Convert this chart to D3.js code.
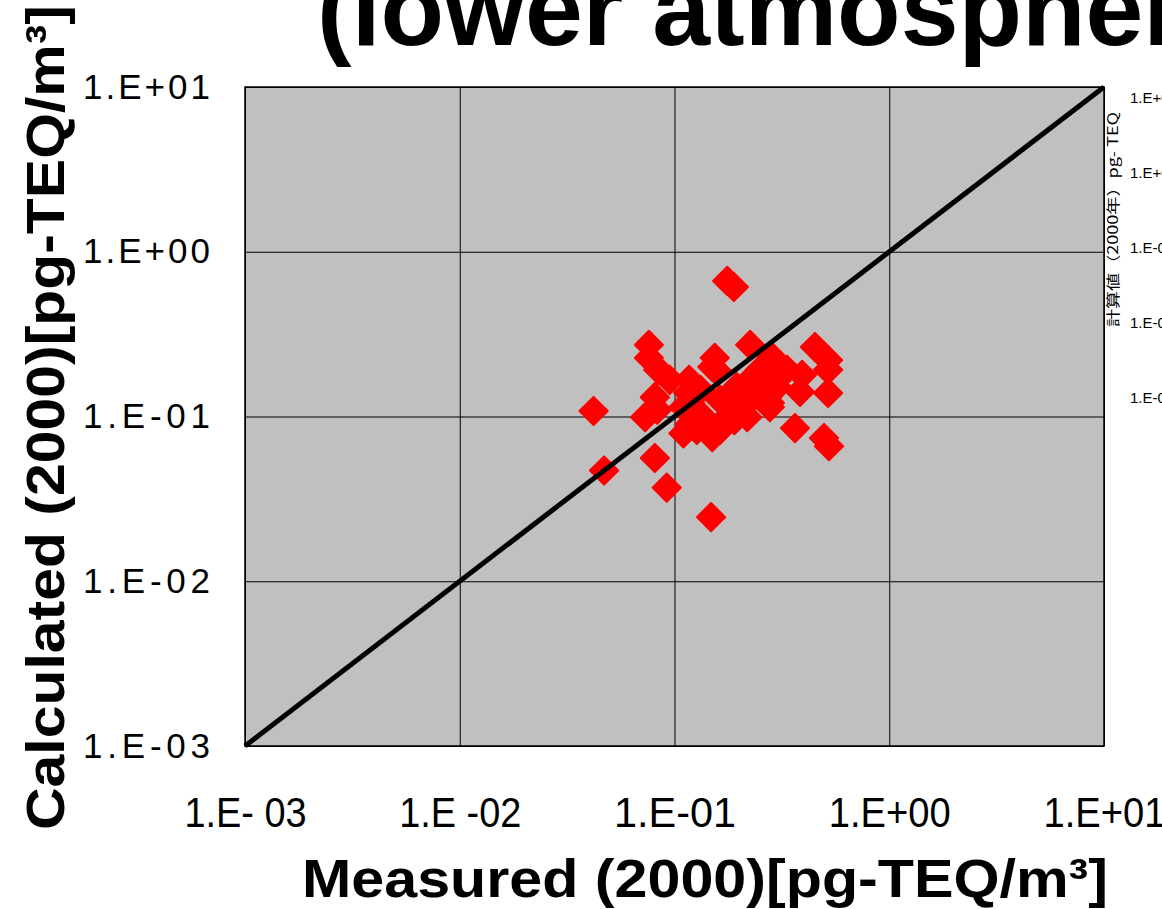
<!DOCTYPE html>
<html>
<head>
<meta charset="utf-8">
<script src="https://cdn.jsdelivr.net/npm/d3@7"></script>
<style>
  html, body { margin: 0; padding: 0; background: #ffffff; }
  svg { display: block; }
</style>
</head>
<body>
<script>
// Measured vs calculated dioxin concentrations (pg-TEQ/m3), year 2000
const measured = [
  0.176, 0.189, 0.042, 0.076, 0.076, 0.084, 0.095, 0.117, 0.081, 0.073,
  0.083, 0.047, 0.081, 0.092, 0.148, 0.154, 0.150, 0.225, 0.451, 0.519,
  0.519, 0.519, 0.497, 0.524, 0.364, 0.384, 0.393, 0.300, 0.284, 0.334,
  0.250, 0.218, 0.278, 0.218, 0.250, 0.300, 0.116, 0.110, 0.150, 0.163,
  0.176, 0.127, 0.118, 0.136, 0.163, 0.195, 0.225, 0.278, 0.110, 0.127,
  0.225, 0.278, 0.270, 0.157, 0.132, 0.202, 0.190, 0.118
];
const calculated = [
  0.665, 0.611, 0.108, 0.272, 0.227, 0.192, 0.167, 0.167, 0.131, 0.099,
  0.110, 0.047, 0.056, 0.037, 0.0245, 0.227, 0.200, 0.272, 0.264, 0.220,
  0.192, 0.139, 0.074, 0.066, 0.085, 0.141, 0.179, 0.211, 0.230, 0.192,
  0.192, 0.151, 0.121, 0.099, 0.131, 0.151, 0.139, 0.079, 0.075, 0.083,
  0.099, 0.095, 0.121, 0.099, 0.126, 0.151, 0.167, 0.160, 0.114, 0.083,
  0.126, 0.114, 0.131, 0.190, 0.145, 0.118, 0.095, 0.090
];
const tickValues = [1e-3, 1e-2, 1e-1, 1e0, 1e1];
const xTickLabels = ["1.E- 03", "1.E -02", "1.E-01", "1.E+00", "1.E+01"];
const yTickLabels = ["1.E-03", "1.E-02", "1.E-01", "1.E+00", "1.E+01"];
const insetTickLabels = ["1.E-03", "1.E-02", "1.E-01", "1.E+00", "1.E+01"];
const titleText = "(lower atmosphere)";
const xTitle = "Measured (2000)[pg-TEQ/m³]";
const yTitle = "Calculated (2000)[pg-TEQ/m³]";
const insetTitle = "計算値（2000年）pg- TEQ";

const W = 1162, H = 909;
const plot = { left: 245, right: 1104, top: 87, bottom: 746 };

const svg = d3.select("body").append("svg")
  .attr("width", W).attr("height", H);

const x = d3.scaleLog().domain([1e-3, 1e1]).range([plot.left, plot.right]);
const y = d3.scaleLog().domain([1e-3, 1e1]).range([plot.bottom, plot.top]);

// Title (runs off the top/right of the page)
svg.append("text")
  .attr("x", 317).attr("y", 45)
  .attr("font-family", "Liberation Sans, Arial, sans-serif")
  .attr("font-weight", "bold")
  .attr("font-size", 104)
  .text(titleText);

// Plot background
svg.append("rect")
  .attr("x", plot.left).attr("y", plot.top)
  .attr("width", plot.right - plot.left).attr("height", plot.bottom - plot.top)
  .attr("fill", "#c0c0c0");

// Gridlines
svg.append("g")
  .attr("transform", `translate(0,${plot.bottom})`)
  .call(d3.axisBottom(x).tickValues(tickValues).tickFormat("")
    .tickSize(-(plot.bottom - plot.top)))
  .call(g => g.select(".domain").remove())
  .call(g => g.selectAll("line").attr("stroke", "#000").attr("stroke-width", 1));
svg.append("g")
  .attr("transform", `translate(${plot.left},0)`)
  .call(d3.axisLeft(y).tickValues(tickValues).tickFormat("")
    .tickSize(-(plot.right - plot.left)))
  .call(g => g.select(".domain").remove())
  .call(g => g.selectAll("line").attr("stroke", "#000").attr("stroke-width", 1));

// Plot frame
svg.append("rect")
  .attr("x", plot.left).attr("y", plot.top)
  .attr("width", plot.right - plot.left).attr("height", plot.bottom - plot.top)
  .attr("fill", "none").attr("stroke", "#000").attr("stroke-width", 1.5);

// Data points: red diamonds
const diamond = d3.symbol().type(d3.symbolSquare).size(400)();
svg.append("g").selectAll("path")
  .data(measured.map((m, i) => [m, calculated[i]]))
  .join("path")
  .attr("d", diamond)
  .attr("transform", d => `translate(${x(d[0])},${y(d[1])}) rotate(45)`)
  .attr("fill", "#ff0000")
  .attr("stroke", "#ff0000")
  .attr("stroke-width", 2)
  .attr("stroke-linejoin", "round");

// 1:1 line
svg.append("line")
  .attr("x1", x(1e-3)).attr("y1", y(1e-3))
  .attr("x2", x(1e1)).attr("y2", y(1e1))
  .attr("stroke", "#000").attr("stroke-width", 5);

// X axis labels
svg.append("g")
  .attr("transform", `translate(0,${plot.bottom})`)
  .call(d3.axisBottom(x).tickValues(tickValues)
    .tickFormat((d, i) => xTickLabels[i]).tickSize(0).tickPadding(51))
  .call(g => g.select(".domain").remove())
  .call(g => g.selectAll("text")
    .attr("font-family", "Liberation Sans, Arial, sans-serif")
    .attr("font-size", 42)
    .attr("fill", "#000")
    .attr("textLength", 122)
    .attr("lengthAdjust", "spacingAndGlyphs"));

// Y axis labels
svg.append("g")
  .attr("transform", `translate(${plot.left},0)`)
  .call(d3.axisLeft(y).tickValues(tickValues)
    .tickFormat((d, i) => yTickLabels[i]).tickSize(0).tickPadding(35))
  .call(g => g.select(".domain").remove())
  .call(g => g.selectAll("text")
    .attr("font-family", "Liberation Sans, Arial, sans-serif")
    .attr("font-size", 35)
    .attr("fill", "#000")
    .attr("textLength", 127)
    .attr("lengthAdjust", "spacing"));

// Axis titles
svg.append("text")
  .attr("x", 302).attr("y", 897)
  .attr("font-family", "Liberation Sans, Arial, sans-serif")
  .attr("font-weight", "bold")
  .attr("font-size", 54)
  .attr("textLength", 806)
  .attr("lengthAdjust", "spacingAndGlyphs")
  .text(xTitle);

svg.append("text")
  .attr("transform", "translate(64,830) rotate(-90)")
  .attr("font-family", "Liberation Sans, Arial, sans-serif")
  .attr("font-weight", "bold")
  .attr("font-size", 54)
  .attr("textLength", 825)
  .attr("lengthAdjust", "spacingAndGlyphs")
  .text(yTitle);

// Small neighbouring panel at the right edge
const yInset = d3.scaleLog().domain([1e-3, 1e1]).range([398, 98]);
svg.append("g").selectAll("text")
  .data(tickValues)
  .join("text")
  .attr("x", 1130)
  .attr("y", d => yInset(d))
  .attr("dy", "0.35em")
  .attr("font-family", "Liberation Sans, Arial, sans-serif")
  .attr("font-size", 15)
  .text((d, i) => insetTickLabels[i]);

svg.append("text")
  .attr("transform", "translate(1118,327) rotate(-90)")
  .attr("font-family", "Noto Sans CJK JP, sans-serif")
  .attr("font-size", 14)
  .attr("textLength", 215)
  .attr("lengthAdjust", "spacingAndGlyphs")
  .text(insetTitle);
</script>
</body>
</html>
